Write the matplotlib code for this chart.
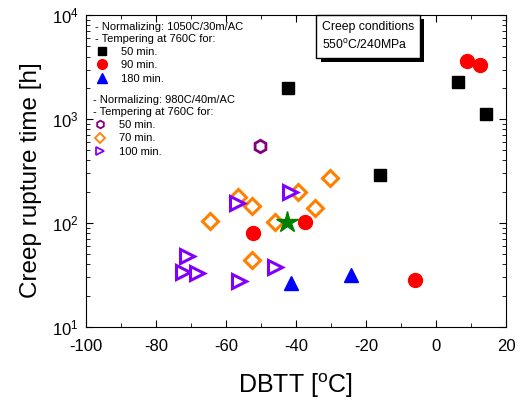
import numpy as np
import matplotlib
matplotlib.use("Agg")
import matplotlib.pyplot as plt
import matplotlib.patheffects as pe
from matplotlib.lines import Line2D
from matplotlib.ticker import MultipleLocator, LogLocator, NullFormatter

plt.rcParams['font.family'] = ['Liberation Sans', 'DejaVu Sans']
plt.rcParams['mathtext.default'] = 'regular'
plt.rcParams['axes.unicode_minus'] = False

# Normalizing 1050C/30m/AC, tempering at 760C
sq50_x = [-42.2, -16.0, 6.2, 14.2]
sq50_y = [2000, 290, 2250, 1130]
ci90_x = [8.8, 12.5, -52.2, -37.4, -6.1]
ci90_y = [3650, 3350, 80, 102, 28.5]
tr180_x = [-41.4, -24.3]
tr180_y = [26.5, 31.5]

# Normalizing 980C/40m/AC, tempering at 760C
hx50_x = [-50.2]
hx50_y = [550]
di70_x = [-64.5, -56.6, -52.5, -52.5, -39.5, -34.4, -30.2, -45.9]
di70_y = [105, 176, 145, 44, 197, 140, 273, 103]
rt100_x = [-71.1, -72.1, -68.2, -56.9, -56.2, -46.1, -41.6]
rt100_y = [48.5, 34, 32.8, 157, 27.3, 38, 200]

star_x = [-42.6]
star_y = [102]

fig = plt.figure(figsize=(5.26, 4.0), dpi=100)
ax = fig.add_axes([0.163, 0.183, 0.799, 0.779])

ax.plot(sq50_x, sq50_y, 's', color='black', ms=8.5, ls='none')
ax.plot(ci90_x, ci90_y, 'o', color='red', ms=10, ls='none')
ax.plot(tr180_x, tr180_y, '^', color='blue', ms=9.5, ls='none')

ax.plot(hx50_x, hx50_y, 'h', mfc='white', mec='#800080', mew=2, ms=9, ls='none')
ax.plot(di70_x, di70_y, 'D', mfc='white', mec='#ff8000', mew=2.2, ms=8, ls='none')
ax.plot(rt100_x, rt100_y, '>', mfc='white', mec='#8000ff', mew=2.2, ms=10, ls='none')

ax.plot(star_x, star_y, '*', color='green', ms=16, ls='none', zorder=5)

ax.set_yscale('log')
ax.set_xlim(-100, 20)
ax.set_ylim(10, 10000)
ax.xaxis.set_major_locator(MultipleLocator(20))
ax.xaxis.set_minor_locator(MultipleLocator(10))
ax.yaxis.set_minor_locator(LogLocator(base=10, subs=np.arange(2, 10)))
ax.yaxis.set_minor_formatter(NullFormatter())
ax.tick_params(which='both', direction='in', top=True, right=True, labelsize=12)
ax.tick_params(axis='x', pad=9)
ax.tick_params(axis='y', pad=5)
ax.tick_params(which='major', length=5)
ax.tick_params(which='minor', length=3)

ax.set_xlabel('DBTT [$^{o}$C]', fontsize=18, labelpad=12)
ax.set_ylabel('Creep rupture time [h]', fontsize=17.5)
ax.yaxis.set_label_coords(-0.105, 0.47)

h1 = [Line2D([], [], ls='none', marker='s', color='black', ms=6),
      Line2D([], [], ls='none', marker='o', color='red', ms=7),
      Line2D([], [], ls='none', marker='^', color='blue', ms=7)]
h2 = [Line2D([], [], ls='none', marker='h', mfc='white', mec='#800080', mew=1.3, ms=5.5),
      Line2D([], [], ls='none', marker='D', mfc='white', mec='#ff8000', mew=1.3, ms=5),
      Line2D([], [], ls='none', marker='>', mfc='white', mec='#8000ff', mew=1.3, ms=6)]

leg1 = ax.legend(h1, ['50 min.', '90 min.', '180 min.'],
                 title='- Normalizing: 1050C/30m/AC\n- Tempering at 760C for:',
                 alignment='left', loc='upper left', bbox_to_anchor=(0.0, 1.007),
                 frameon=False, fontsize=8, title_fontsize=8,
                 handlelength=1.4, handletextpad=1.0, labelspacing=0.3, borderpad=0.3)
ax.add_artist(leg1)
ax.legend(h2, ['50 min.', '70 min.', '100 min.'],
          title='- Normalizing: 980C/40m/AC\n- Tempering at 760C for:',
          alignment='left', loc='upper left', bbox_to_anchor=(-0.005, 0.772),
          frameon=False, fontsize=8, title_fontsize=8,
          handlelength=1.4, handletextpad=1.0, labelspacing=0.3, borderpad=0.3)

t = ax.text(0.562, 0.982, 'Creep conditions\n550$^{o}$C/240MPa', transform=ax.transAxes,
            fontsize=8.8, va='top', ha='left', linespacing=1.5,
            bbox=dict(boxstyle='square,pad=0.45', fc='white', ec='black', lw=1))
t.get_bbox_patch().set_path_effects([pe.SimplePatchShadow(offset=(3, -3), shadow_rgbFace='black', alpha=1), pe.Normal()])

fig.savefig('out.png', dpi=100)
